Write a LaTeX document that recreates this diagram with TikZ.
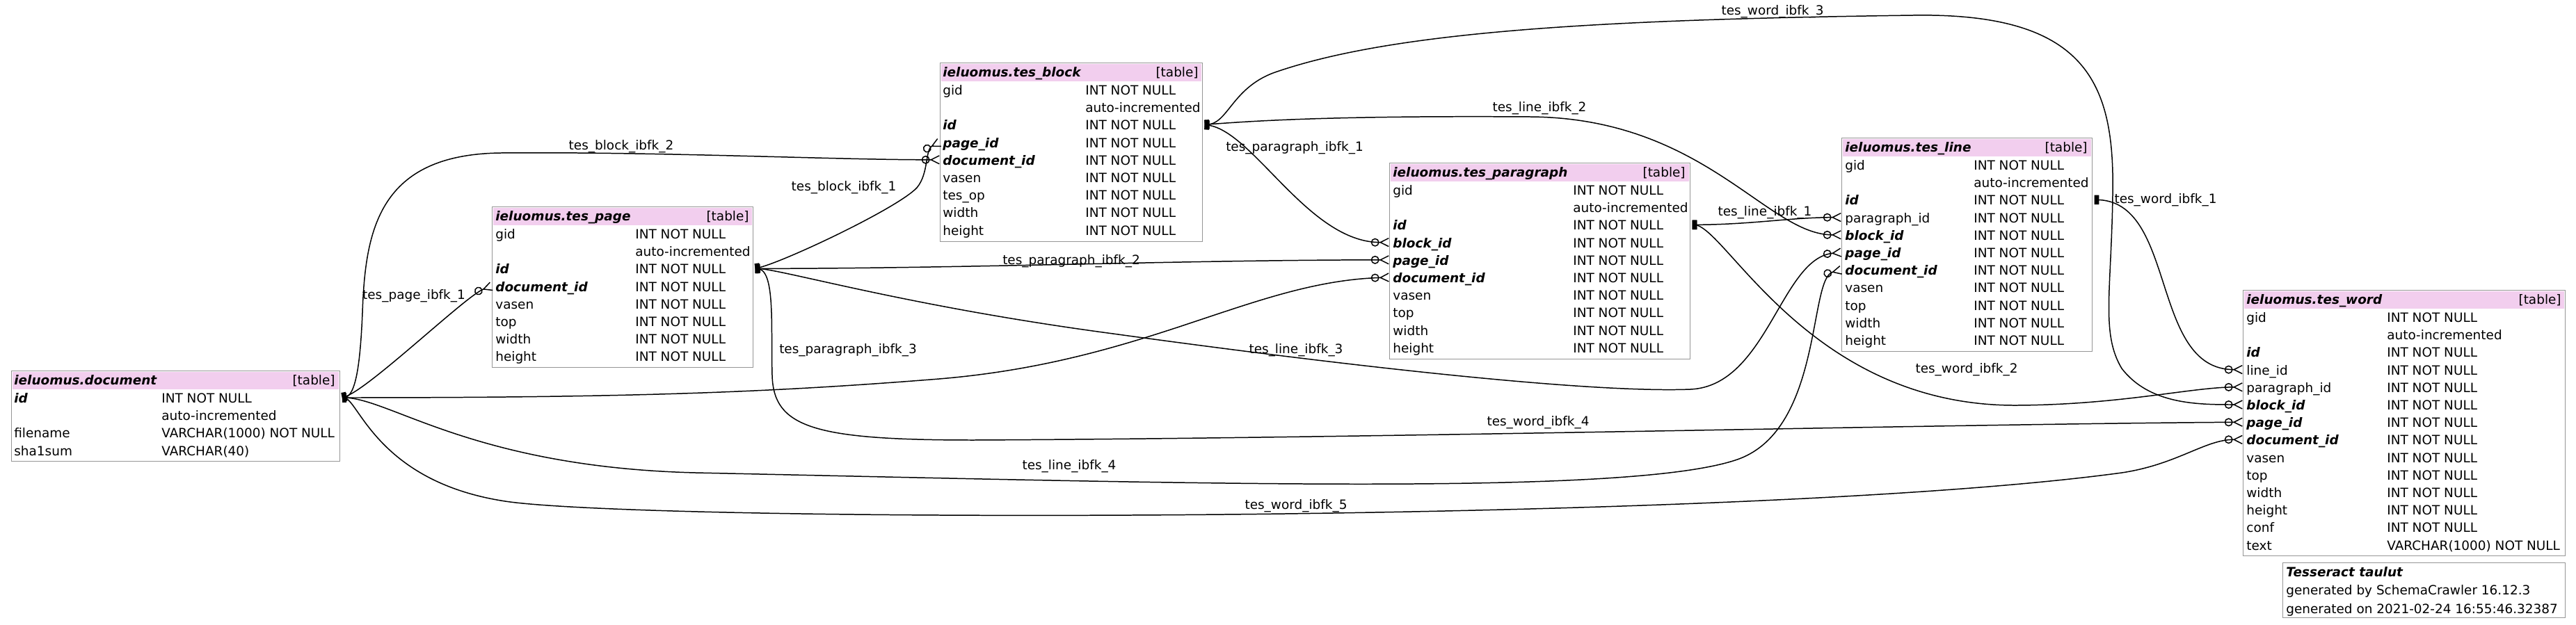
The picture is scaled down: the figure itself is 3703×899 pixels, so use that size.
\documentclass[tikz,border=0pt]{standalone}
\usepackage{fontspec}
\setmainfont{DejaVu Sans}
\usetikzlibrary{arrows.meta,positioning}
\definecolor{hdrpink}{RGB}{242,206,238}
\definecolor{boxgray}{RGB}{150,150,150}
\newcommand{\keyname}[1]{\textbf{\textit{#1}}}

\begin{document}
\begin{tikzpicture}[x=0.02cm,y=-0.02cm,font=\fontsize{10.5}{12}\selectfont,
  tbl/.style={draw=boxgray,line width=0.8pt,anchor=north west,inner sep=0pt},
  hdr/.style={fill=hdrpink,anchor=north west,inner sep=0pt,minimum height=0.51cm},
  txt/.style={anchor=west,inner sep=0pt,text height=10pt,text depth=1.5pt},
  tag/.style={anchor=east,inner sep=0pt,text height=10pt,text depth=1.5pt},
  lbl/.style={inner sep=0pt,text height=10pt,text depth=1.5pt},
  rel/.style={line width=0.85pt,
    {Bar[width=7.6pt,line width=1.9pt,sep=1.3pt]Bar[width=7.6pt,line width=1.9pt]}-{Circle[open,length=6.8pt,width=6.8pt]Straight Barb[reversed,length=6.8pt,width=6.8pt]}}]
  \useasboundingbox (0,0) rectangle (3703,899);

  % ieluomus.document
  \node[tbl,minimum width=9.44cm,minimum height=2.6cm] (document) at (16,533) {};
  \node[hdr,minimum width=9.38cm] (document-h) at (17.5,534.5) {};
  \node[txt] (document-t) at (20,546) {\keyname{ieluomus.document}};
  \node[tag] (document-k) at (482,546) {[table]};
  \foreach \cname/\ctype [count=\i from 0] in {\keyname{id}/INT NOT NULL,/auto-incremented,
      filename/VARCHAR(1000) NOT NULL,sha1sum/VARCHAR(40)} {
    \node[txt] (document-r\i) at (20,{572+25.2*\i}) {\cname};
    \node[txt] (document-c\i) at (232,{572+25.2*\i}) {\ctype};
  }

  % ieluomus.tes_page
  \node[tbl,minimum width=7.5cm,minimum height=4.62cm] (page) at (707,297) {};
  \node[hdr,minimum width=7.44cm] (page-h) at (708.5,298.5) {};
  \node[txt] (page-t) at (712,310) {\keyname{ieluomus.tes\_page}};
  \node[tag] (page-k) at (1077,310) {[table]};
  \foreach \cname/\ctype [count=\i from 0] in {gid/INT NOT NULL,/auto-incremented,
      \keyname{id}/INT NOT NULL,\keyname{document\_id}/INT NOT NULL,vasen/INT NOT NULL,
      top/INT NOT NULL,width/INT NOT NULL,height/INT NOT NULL} {
    \node[txt] (page-r\i) at (712,{336+25.2*\i}) {\cname};
    \node[txt] (page-c\i) at (913,{336+25.2*\i}) {\ctype};
  }

  % ieluomus.tes_block
  \node[tbl,minimum width=7.54cm,minimum height=5.14cm] (block) at (1351,90) {};
  \node[hdr,minimum width=7.48cm] (block-h) at (1352.5,91.5) {};
  \node[txt] (block-t) at (1355,103) {\keyname{ieluomus.tes\_block}};
  \node[tag] (block-k) at (1723,103) {[table]};
  \foreach \cname/\ctype [count=\i from 0] in {gid/INT NOT NULL,/auto-incremented,
      \keyname{id}/INT NOT NULL,\keyname{page\_id}/INT NOT NULL,\keyname{document\_id}/INT NOT NULL,
      vasen/INT NOT NULL,tes\_op/INT NOT NULL,width/INT NOT NULL,height/INT NOT NULL} {
    \node[txt] (block-r\i) at (1355,{129+25.2*\i}) {\cname};
    \node[txt] (block-c\i) at (1560,{129+25.2*\i}) {\ctype};
  }

  % ieluomus.tes_paragraph
  \node[tbl,minimum width=8.64cm,minimum height=5.64cm] (paragraph) at (1997,234) {};
  \node[hdr,minimum width=8.58cm] (paragraph-h) at (1998.5,235.5) {};
  \node[txt] (paragraph-t) at (2002,247) {\keyname{ieluomus.tes\_paragraph}};
  \node[tag] (paragraph-k) at (2423,247) {[table]};
  \foreach \cname/\ctype [count=\i from 0] in {gid/INT NOT NULL,/auto-incremented,
      \keyname{id}/INT NOT NULL,\keyname{block\_id}/INT NOT NULL,\keyname{page\_id}/INT NOT NULL,
      \keyname{document\_id}/INT NOT NULL,vasen/INT NOT NULL,top/INT NOT NULL,
      width/INT NOT NULL,height/INT NOT NULL} {
    \node[txt] (paragraph-r\i) at (2002,{273+25.2*\i}) {\cname};
    \node[txt] (paragraph-c\i) at (2261,{273+25.2*\i}) {\ctype};
  }

  % ieluomus.tes_line
  \node[tbl,minimum width=7.2cm,minimum height=6.14cm] (tline) at (2647,198) {};
  \node[hdr,minimum width=7.14cm] (tline-h) at (2648.5,199.5) {};
  \node[txt] (tline-t) at (2652,211) {\keyname{ieluomus.tes\_line}};
  \node[tag] (tline-k) at (3001,211) {[table]};
  \foreach \cname/\ctype [count=\i from 0] in {gid/INT NOT NULL,/auto-incremented,
      \keyname{id}/INT NOT NULL,paragraph\_id/INT NOT NULL,\keyname{block\_id}/INT NOT NULL,
      \keyname{page\_id}/INT NOT NULL,\keyname{document\_id}/INT NOT NULL,vasen/INT NOT NULL,
      top/INT NOT NULL,width/INT NOT NULL,height/INT NOT NULL} {
    \node[txt] (tline-r\i) at (2652,{237+25.2*\i}) {\cname};
    \node[txt] (tline-c\i) at (2837,{237+25.2*\i}) {\ctype};
  }

  % ieluomus.tes_word
  \node[tbl,minimum width=9.26cm,minimum height=7.64cm] (word) at (3224,417) {};
  \node[hdr,minimum width=9.2cm] (word-h) at (3225.5,418.5) {};
  \node[txt] (word-t) at (3229,430) {\keyname{ieluomus.tes\_word}};
  \node[tag] (word-k) at (3682,430) {[table]};
  \foreach \cname/\ctype [count=\i from 0] in {gid/INT NOT NULL,/auto-incremented,
      \keyname{id}/INT NOT NULL,line\_id/INT NOT NULL,paragraph\_id/INT NOT NULL,
      \keyname{block\_id}/INT NOT NULL,\keyname{page\_id}/INT NOT NULL,
      \keyname{document\_id}/INT NOT NULL,vasen/INT NOT NULL,top/INT NOT NULL,
      width/INT NOT NULL,height/INT NOT NULL,conf/INT NOT NULL,text/VARCHAR(1000) NOT NULL} {
    \node[txt] (word-r\i) at (3229,{456+25.2*\i}) {\cname};
    \node[txt] (word-c\i) at (3431,{456+25.2*\i}) {\ctype};
  }

  % legend
  \node[tbl,minimum width=8.12cm,minimum height=1.58cm] (legend) at (3281,809) {};
  \node[txt] (legend-t) at (3286,822) {\keyname{Tesseract taulut}};
  \node[txt] (legend-b) at (3286,848.5) {generated by SchemaCrawler 16.12.3};
  \node[txt] (legend-o) at (3286,875) {generated on 2021-02-24 16:55:46.32387};

  % foreign keys
  \draw[rel] (document.east |- document-r0) .. controls (525,565) and (670,425) .. (page.west |- page-r3);
  \draw[rel] (document.east |- document-r0) .. controls (512,572) and (518,520) .. (521,450)
    .. controls (525,330) and (545,222) .. (720,220) .. controls (950,218) and (1200,230) .. (block.west |- block-r4);
  \draw[rel] (page.east |- page-r2) .. controls (1120,380) and (1290,300) .. (1318,270)
    .. controls (1335,250) and (1330,215) .. (block.west |- block-r3);
  \draw[rel] (block.east |- block-r2) .. controls (1800,185) and (1880,349) .. (paragraph.west |- paragraph-r3);
  \draw[rel] (page.east |- page-r2) .. controls (1400,386) and (1700,374) .. (paragraph.west |- paragraph-r4);
  \draw[rel] (document.east |- document-r0) .. controls (900,572) and (1100,565) .. (1350,545)
    .. controls (1650,520) and (1800,405) .. (paragraph.west |- paragraph-r5);
  \draw[rel] (paragraph.east |- paragraph-r2) .. controls (2520,323) and (2570,313) .. (tline.west |- tline-r3);
  \draw[rel] (block.east |- block-r2) .. controls (1790,175) and (1900,166) .. (2200,168)
    .. controls (2450,170) and (2540,338) .. (tline.west |- tline-r4);
  \draw[rel] (page.east |- page-r2) .. controls (1120,386) and (1300,440) .. (1600,480)
    .. controls (2000,535) and (2300,565) .. (2430,560) .. controls (2540,555) and (2560,372) .. (tline.west |- tline-r5);
  \draw[rel] (document.east |- document-r0) .. controls (560,572) and (680,672) .. (1000,680)
    .. controls (1700,695) and (2350,715) .. (2500,660) .. controls (2620,615) and (2600,400) .. (tline.west |- tline-r6);
  \draw[rel] (tline.east |- tline-r2) .. controls (3130,287) and (3090,532) .. (word.west |- word-r3);
  \draw[rel] (paragraph.east |- paragraph-r2) .. controls (2480,323) and (2600,585) .. (2900,583)
    .. controls (3050,582) and (3150,557) .. (word.west |- word-r4);
  \draw[rel] (block.east |- block-r2) .. controls (1765,179) and (1770,128) .. (1830,105)
    .. controls (2000,45) and (2300,28) .. (2750,22) .. controls (3000,18) and (3040,120) .. (3037,280)
    .. controls (3035,420) and (3020,480) .. (3050,530) .. controls (3090,582) and (3160,582) .. (word.west |- word-r5);
  \draw[rel] (page.east |- page-r2) .. controls (1115,386) and (1108,470) .. (1110,540)
    .. controls (1112,615) and (1170,633) .. (1400,633) .. controls (2000,630) and (2800,610) .. (word.west |- word-r6);
  \draw[rel] (document.east |- document-r0) .. controls (515,572) and (540,690) .. (720,720)
    .. controls (900,752) and (2500,755) .. (3050,680) .. controls (3130,668) and (3170,632) .. (word.west |- word-r7);

  % constraint names
  \node[lbl] (fk-page1) at (595,423) {tes\_page\_ibfk\_1};
  \node[lbl] (fk-block2) at (893,208) {tes\_block\_ibfk\_2};
  \node[lbl] (fk-block1) at (1213,267) {tes\_block\_ibfk\_1};
  \node[lbl] (fk-para1) at (1861,210) {tes\_paragraph\_ibfk\_1};
  \node[lbl] (fk-para2) at (1540,373) {tes\_paragraph\_ibfk\_2};
  \node[lbl] (fk-para3) at (1219,501) {tes\_paragraph\_ibfk\_3};
  \node[lbl] (fk-line1) at (2537,303) {tes\_line\_ibfk\_1};
  \node[lbl] (fk-line2) at (2213,153) {tes\_line\_ibfk\_2};
  \node[lbl] (fk-line3) at (1863,501) {tes\_line\_ibfk\_3};
  \node[lbl] (fk-line4) at (1537,668) {tes\_line\_ibfk\_4};
  \node[lbl] (fk-word1) at (3113,285) {tes\_word\_ibfk\_1};
  \node[lbl] (fk-word2) at (2827,529) {tes\_word\_ibfk\_2};
  \node[lbl] (fk-word3) at (2548,14) {tes\_word\_ibfk\_3};
  \node[lbl] (fk-word4) at (2211,605) {tes\_word\_ibfk\_4};
  \node[lbl] (fk-word5) at (1863,725) {tes\_word\_ibfk\_5};
\end{tikzpicture}
\end{document}
